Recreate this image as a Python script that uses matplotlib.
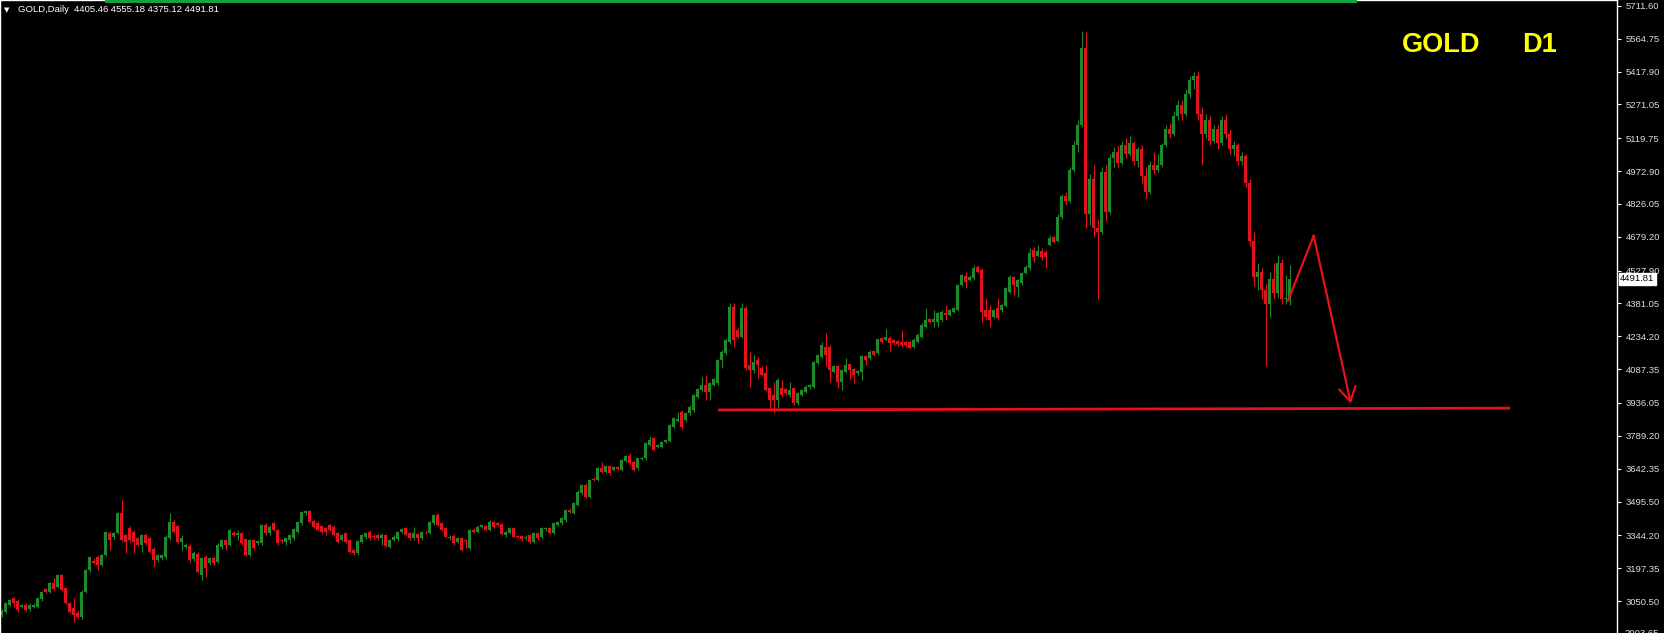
import matplotlib
matplotlib.use("Agg")
import matplotlib.pyplot as plt
import matplotlib.transforms as mtransforms
from matplotlib.patches import Rectangle
import numpy as np

# daily OHLC (oldest first)
opens = [
    2988, 3003, 3033, 3062, 3052, 3025, 3033, 3013, 3022, 3025,
    3058, 3103, 3092, 3132, 3115, 3167, 3107, 3040, 3020, 2998,
    2978, 3092, 3189, 3231, 3249, 3212, 3256, 3356, 3338, 3356,
    3443, 3346, 3376, 3361, 3331, 3301, 3346, 3331, 3282, 3234,
    3241, 3246, 3331, 3405, 3386, 3316, 3290, 3296, 3237, 3262,
    3165, 3249, 3219, 3241, 3226, 3294, 3323, 3301, 3356, 3346,
    3353, 3326, 3256, 3323, 3308, 3308, 3390, 3353, 3398, 3368,
    3323, 3316, 3323, 3331, 3361, 3398, 3443, 3453, 3408, 3401,
    3388, 3375, 3390, 3383, 3353, 3323, 3353, 3323, 3279, 3264,
    3316, 3338, 3361, 3341, 3346, 3331, 3346, 3294, 3323, 3326,
    3361, 3376, 3353, 3331, 3349, 3331, 3356, 3353, 3398, 3435,
    3398, 3376, 3331, 3341, 3316, 3331, 3321, 3286, 3368, 3361,
    3380, 3387, 3368, 3405, 3401, 3393, 3346, 3353, 3375, 3341,
    3341, 3331, 3346, 3316, 3353, 3338, 3371, 3375, 3353, 3390,
    3398, 3413, 3457, 3443, 3480, 3532, 3569, 3517, 3598, 3592,
    3644, 3629, 3654, 3636, 3651, 3636, 3678, 3699, 3674, 3644,
    3686, 3689, 3748, 3778, 3741, 3741, 3763, 3767, 3830, 3857,
    3897, 3860, 3890, 3905, 3964, 3994, 4017, 3987, 4017, 4024,
    4128, 4158, 4210, 4367, 4262, 4233, 4359, 4106, 4084, 4128,
    4091, 4069, 4002, 3972, 3949, 4002, 3999, 3972, 4002, 3935,
    3972, 3987, 4006, 4009, 4113, 4143, 4188, 4188, 4076, 4101,
    4031, 4076, 4110, 4086, 4069, 4076, 4146, 4136, 4168, 4158,
    4225, 4218, 4228, 4218, 4213, 4210, 4208, 4210, 4188, 4210,
    4233, 4278, 4310, 4300, 4300, 4307, 4340, 4330, 4345, 4352,
    4464, 4504, 4486, 4494, 4546, 4531, 4352, 4352, 4322, 4360,
    4352, 4370, 4434, 4498, 4456, 4471, 4519, 4538, 4620, 4594,
    4616, 4613, 4643, 4677, 4662, 4770, 4860, 4840, 4980, 5090,
    5180, 5525, 4780, 4940, 4720, 4700, 4970, 4790, 5030, 5060,
    5010, 5090, 5050, 5100, 5020, 5070, 4950, 4880, 5000, 4980,
    5000, 5090, 5160, 5140, 5220, 5270, 5230, 5320, 5380, 5400,
    5230, 5140, 5200, 5110, 5160, 5100, 5200, 5140, 5070, 5090,
    5020, 5040, 4920, 4660, 4500, 4520, 4440, 4380, 4490, 4430,
    4560, 4400, 4405.46,
]
highs = [
    3013, 3045, 3060, 3070, 3058, 3038, 3040, 3043, 3040, 3066,
    3095, 3108, 3135, 3152, 3170, 3172, 3112, 3048, 3062, 3010,
    3098, 3195, 3250, 3245, 3255, 3262, 3365, 3365, 3360, 3448,
    3502, 3352, 3385, 3370, 3338, 3352, 3355, 3338, 3290, 3262,
    3262, 3345, 3443, 3412, 3392, 3346, 3308, 3305, 3272, 3270,
    3245, 3256, 3248, 3250, 3308, 3330, 3330, 3372, 3362, 3368,
    3360, 3330, 3330, 3330, 3322, 3395, 3398, 3390, 3405, 3372,
    3330, 3336, 3352, 3375, 3410, 3455, 3458, 3458, 3412, 3408,
    3392, 3380, 3396, 3392, 3358, 3350, 3360, 3328, 3285, 3322,
    3350, 3358, 3368, 3348, 3352, 3353, 3352, 3330, 3345, 3365,
    3378, 3382, 3358, 3383, 3355, 3365, 3362, 3410, 3440, 3443,
    3402, 3380, 3345, 3348, 3336, 3338, 3325, 3372, 3375, 3390,
    3395, 3392, 3415, 3410, 3405, 3398, 3365, 3380, 3382, 3346,
    3346, 3345, 3350, 3358, 3358, 3380, 3380, 3380, 3402, 3410,
    3425, 3462, 3465, 3492, 3545, 3575, 3578, 3597, 3605, 3648,
    3674, 3660, 3660, 3656, 3656, 3685, 3702, 3711, 3680, 3692,
    3696, 3760, 3788, 3785, 3752, 3768, 3775, 3842, 3872, 3897,
    3903, 3895, 3925, 3976, 4002, 4054, 4061, 4030, 4048, 4135,
    4172, 4225, 4382, 4382, 4275, 4382, 4370, 4166, 4151, 4143,
    4100, 4106, 4008, 4031, 4046, 4039, 4005, 4031, 4008, 3985,
    4000, 4016, 4022, 4125, 4156, 4210, 4248, 4195, 4108, 4108,
    4090, 4136, 4115, 4092, 4082, 4150, 4152, 4172, 4174, 4222,
    4232, 4265, 4235, 4224, 4220, 4262, 4215, 4218, 4225, 4248,
    4292, 4360, 4318, 4352, 4342, 4350, 4375, 4358, 4366, 4470,
    4515, 4523, 4508, 4553, 4552, 4538, 4404, 4374, 4358, 4404,
    4382, 4455, 4508, 4504, 4492, 4522, 4552, 4628, 4635, 4643,
    4628, 4620, 4688, 4684, 4780, 4870, 4880, 4990, 5110, 5200,
    5600, 5596, 4960, 5000, 4760, 4990, 5000, 5050, 5080, 5090,
    5110, 5120, 5130, 5110, 5080, 5090, 4990, 5020, 5060, 5050,
    5100, 5180, 5190, 5240, 5290, 5290, 5340, 5400, 5415, 5420,
    5260, 5230, 5220, 5180, 5180, 5220, 5230, 5160, 5110, 5100,
    5060, 5050, 4940, 4700, 4560, 4540, 4470, 4520, 4560, 4600,
    4580, 4510, 4555.18,
]
lows = [
    2980, 2998, 3028, 3025, 3003, 3018, 3005, 3008, 3018, 3020,
    3052, 3085, 3085, 3098, 3110, 3095, 3035, 2995, 2958, 2970,
    2972, 3085, 3180, 3215, 3189, 3205, 3250, 3279, 3330, 3350,
    3318, 3264, 3315, 3264, 3295, 3271, 3300, 3265, 3204, 3225,
    3235, 3240, 3325, 3355, 3310, 3279, 3282, 3225, 3230, 3175,
    3144, 3159, 3210, 3210, 3220, 3285, 3279, 3295, 3340, 3323,
    3300, 3250, 3248, 3280, 3300, 3302, 3345, 3345, 3362, 3300,
    3312, 3301, 3308, 3325, 3355, 3392, 3435, 3400, 3378, 3362,
    3355, 3346, 3362, 3340, 3310, 3318, 3310, 3265, 3256, 3258,
    3310, 3330, 3325, 3330, 3325, 3301, 3290, 3288, 3318, 3320,
    3355, 3340, 3325, 3325, 3308, 3325, 3348, 3348, 3392, 3385,
    3362, 3335, 3325, 3300, 3310, 3272, 3286, 3280, 3353, 3355,
    3375, 3362, 3362, 3378, 3385, 3345, 3338, 3348, 3335, 3332,
    3320, 3325, 3310, 3310, 3325, 3332, 3365, 3348, 3348, 3385,
    3392, 3405, 3445, 3438, 3475, 3525, 3510, 3512, 3588, 3585,
    3622, 3622, 3615, 3630, 3635, 3630, 3672, 3660, 3630, 3638,
    3680, 3683, 3742, 3720, 3735, 3735, 3758, 3762, 3825, 3850,
    3818, 3852, 3884, 3898, 3958, 3988, 3949, 3949, 4010, 4018,
    4091, 4150, 4200, 4188, 4225, 4225, 4085, 4009, 4069, 4046,
    4055, 3990, 3912, 3890, 3912, 3965, 3972, 3965, 3928, 3928,
    3966, 3980, 4000, 4003, 4105, 4138, 4100, 4031, 4070, 4002,
    3994, 4070, 4039, 4024, 4062, 4039, 4106, 4130, 4145, 4152,
    4205, 4212, 4166, 4196, 4190, 4188, 4185, 4176, 4180, 4204,
    4226, 4272, 4293, 4278, 4278, 4300, 4307, 4325, 4340, 4346,
    4458, 4449, 4480, 4488, 4518, 4300, 4307, 4275, 4315, 4308,
    4345, 4364, 4428, 4419, 4412, 4465, 4513, 4532, 4568, 4588,
    4576, 4538, 4636, 4652, 4655, 4760, 4820, 4830, 4970, 5060,
    5170, 4720, 4730, 4680, 4400, 4690, 4750, 4780, 4990, 4990,
    5000, 5030, 5040, 5000, 4990, 4920, 4850, 4870, 4960, 4970,
    4990, 5080, 5120, 5130, 5200, 5200, 5220, 5300, 5340, 5200,
    5000, 5120, 5090, 5100, 5070, 5090, 5120, 5050, 5040, 5000,
    5000, 4900, 4640, 4460, 4440, 4400, 4100, 4320, 4400, 4410,
    4380, 4380, 4375.12,
]
closes = [
    3007, 3040, 3055, 3040, 3010, 3033, 3010, 3033, 3033, 3062,
    3092, 3092, 3130, 3103, 3167, 3100, 3040, 3003, 2990, 2978,
    3092, 3189, 3246, 3219, 3212, 3256, 3361, 3323, 3356, 3443,
    3323, 3316, 3323, 3316, 3301, 3346, 3308, 3271, 3234, 3256,
    3256, 3338, 3405, 3361, 3316, 3331, 3301, 3234, 3264, 3182,
    3241, 3197, 3241, 3219, 3301, 3323, 3301, 3368, 3346, 3356,
    3308, 3256, 3323, 3286, 3319, 3390, 3353, 3383, 3368, 3308,
    3319, 3331, 3346, 3371, 3405, 3450, 3453, 3405, 3383, 3368,
    3361, 3361, 3368, 3346, 3316, 3346, 3316, 3271, 3264, 3319,
    3346, 3353, 3331, 3335, 3331, 3346, 3296, 3323, 3338, 3361,
    3371, 3346, 3331, 3353, 3331, 3361, 3353, 3405, 3435, 3390,
    3368, 3338, 3338, 3308, 3331, 3279, 3318, 3368, 3361, 3383,
    3390, 3368, 3405, 3383, 3390, 3350, 3361, 3375, 3338, 3338,
    3326, 3338, 3316, 3353, 3331, 3375, 3375, 3353, 3398, 3405,
    3420, 3457, 3450, 3487, 3540, 3569, 3517, 3592, 3592, 3644,
    3629, 3654, 3622, 3651, 3639, 3681, 3699, 3666, 3636, 3689,
    3690, 3756, 3770, 3726, 3748, 3763, 3770, 3838, 3867, 3863,
    3830, 3890, 3920, 3972, 3997, 4017, 3987, 4024, 4042, 4128,
    4166, 4218, 4367, 4218, 4233, 4359, 4091, 4084, 4121, 4106,
    4061, 3994, 3949, 3949, 4039, 3972, 3979, 3994, 3935, 3979,
    3994, 4009, 4017, 4121, 4151, 4195, 4151, 4084, 4101, 4031,
    4084, 4106, 4084, 4061, 4079, 4146, 4128, 4166, 4151, 4221,
    4210, 4233, 4203, 4203, 4198, 4196, 4195, 4181, 4218, 4240,
    4285, 4307, 4300, 4310, 4337, 4345, 4330, 4352, 4360, 4464,
    4509, 4479, 4501, 4538, 4524, 4345, 4322, 4307, 4352, 4315,
    4375, 4449, 4501, 4464, 4486, 4516, 4546, 4606, 4591, 4616,
    4591, 4591, 4673, 4658, 4770, 4860, 4840, 4980, 5090, 5180,
    5525, 4780, 4940, 4720, 4700, 4970, 4790, 5030, 5060, 5010,
    5090, 5050, 5100, 5020, 5070, 4950, 4880, 5000, 4980, 5000,
    5090, 5160, 5140, 5220, 5270, 5230, 5320, 5380, 5400, 5230,
    5140, 5200, 5110, 5160, 5100, 5200, 5140, 5070, 5090, 5020,
    5040, 4920, 4660, 4500, 4520, 4440, 4380, 4490, 4430, 4560,
    4400, 4405, 4491.81,
]

price_ticks = [5711.60, 5564.75, 5417.90, 5271.05, 5119.75, 4972.90,
               4826.05, 4679.20, 4527.90, 4381.05, 4234.20, 4087.35,
               3936.05, 3789.20, 3642.35, 3495.50, 3344.20, 3197.35,
               3050.50]
cut_tick = 2903.65
symbol = "GOLD,Daily"

# hand drawn objects (bar index, price)
support_x = [179.1, 377.1]
support_y = [3905, 3913]
arrow_x = [321.6, 328.0, 337.3]
arrow_y = [4394, 4684, 3934]

W, H = 1665, 633
bull = "#1f8a2c"
bear = "#e3121c"
pen = "#e8101c"

fig = plt.figure(figsize=(W / 100, H / 100), dpi=100, facecolor="black")
ax = fig.add_axes([0, 0, 1617 / W, 1])
ax.set_facecolor("black")

o = np.array(opens, float)
h = np.array(highs, float)
l = np.array(lows, float)
c = np.array(closes, float)
n = len(c)
idx = np.arange(n)
cols = np.where(c >= o, bull, bear)

ax.vlines(idx, l, h, colors=cols, linewidth=0.8)
body_lo = np.minimum(o, c)
body_h = np.maximum(np.abs(c - o), 3.5)
ax.bar(idx, body_h, 0.72, bottom=body_lo, color=cols, linewidth=0)

ax.set_xlim(-0.42, -0.42 + 1617 / 4)
ax.set_ylim(2907.4, 5738.4)

# support line and the expected path
ax.plot(support_x, support_y, color=pen, lw=2.0, solid_capstyle="butt")
ax.plot(arrow_x[:2], arrow_y[:2], color=pen, lw=1.6)
ax.annotate("", xy=(arrow_x[2], arrow_y[2]), xytext=(arrow_x[1], arrow_y[1]),
            arrowprops=dict(arrowstyle="->,head_length=0.5,head_width=0.3",
                            color=pen, lw=1.6, shrinkA=0, shrinkB=0,
                            mutation_scale=20))

# price scale on the right
ax.yaxis.tick_right()
ax.set_yticks(price_ticks)
ax.set_yticklabels([f"{t:.2f}" for t in price_ticks], family="Liberation Sans")
ax.tick_params(axis="y", colors="white", labelcolor="#dcdcdc", length=3,
               width=0.8, pad=3, labelsize=6.8, direction="out")
ax.set_xticks([])
for side in ["left", "right", "top"]:
    ax.spines[side].set_color("white")
    ax.spines[side].set_linewidth(1)
ax.spines["bottom"].set_visible(False)

trans = mtransforms.blended_transform_factory(ax.transAxes, ax.transData)
ax.text(1.0 + 7 / 1617, cut_tick, f"{cut_tick:.2f}", transform=trans,
        color="#dcdcdc", fontsize=6.8, family="Liberation Sans",
        va="center", ha="left", clip_on=False)
ax.text(1.0 + 3 / 1617, c[-1], f"{c[-1]:.2f}", transform=trans,
        color="black", fontsize=6.8, family="Liberation Sans",
        va="center", ha="left", clip_on=False,
        bbox=dict(boxstyle="square,pad=0.15", fc="white", ec="white"))

# header and labels
fig.text(4 / W, 1 - 10 / H, "\u25bc", color="white", fontsize=5, va="center")
fig.text(18 / W, 1 - 10 / H,
         f"{symbol}  {o[-1]:.2f} {h[-1]:.2f} {l[-1]:.2f} {c[-1]:.2f}",
         color="white", fontsize=6.8, family="Liberation Sans", va="center")
fig.text(1402 / W, 1 - 52 / H, "GOLD", color="#ffff00", fontsize=19.5,
         fontweight="bold", family="Liberation Sans", va="baseline")
fig.text(1522 / W, 1 - 52 / H, "D1", color="#ffff00", fontsize=19.5,
         fontweight="bold", family="Liberation Sans", va="baseline")

fig.add_artist(Rectangle((105 / W, 1 - 3 / H), (1357 - 105) / W, 3 / H,
                         transform=fig.transFigure, color="#15a03e", lw=0))

fig.savefig("out.png", dpi=100, facecolor="black")
